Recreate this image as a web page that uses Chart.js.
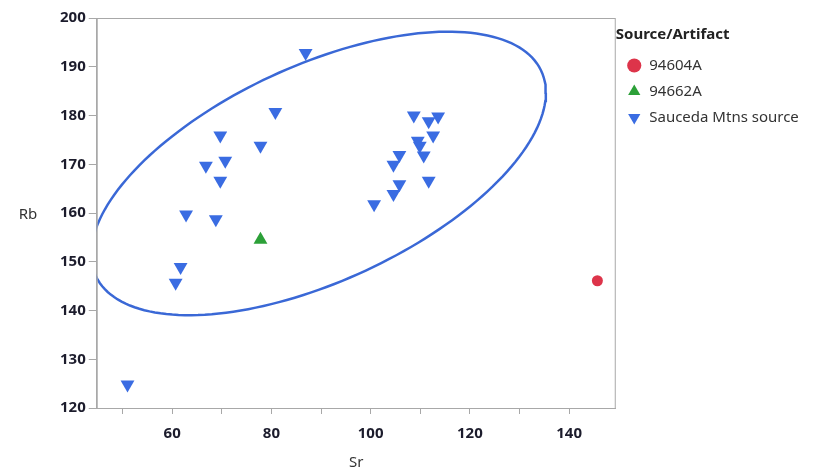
<!DOCTYPE html>
<html>
<head>
<meta charset="utf-8">
<script src="https://cdn.jsdelivr.net/npm/chart.js@4/dist/chart.umd.min.js"></script>
<style>
  html, body { margin: 0; padding: 0; background: #fff; }
  canvas { display: block; }
</style>
</head>
<body>
<canvas id="Chart" width="835" height="468"></canvas>
<script>
// values
const saucedaSr = [86.9, 80.8, 69.7, 77.8, 66.8, 70.7, 69.7, 62.8, 68.8, 61.7, 60.7, 51.0,
                   108.7, 111.7, 113.6, 112.6, 109.5, 109.9, 110.7, 105.8, 104.6, 111.7, 105.8, 104.6, 100.7]
const saucedaRb = [192.8, 180.7, 175.9, 173.8, 169.7, 170.7, 166.6, 159.7, 158.7, 148.9, 145.7, 124.8,
                   180.0, 178.8, 179.8, 175.9, 174.8, 173.8, 171.8, 171.9, 169.9, 166.6, 165.9, 163.9, 161.8]
const a94604Sr = [145.7]
const a94604Rb = [146.1]
const a94662Sr = [77.8]
const a94662Rb = [154.5]
const yTicks = [120, 130, 140, 150, 160, 170, 180, 190, 200]
const xTickLabels = [60, 80, 100, 120, 140]

const blue = 'rgb(58, 108, 226)'
const green = 'rgb(44, 160, 56)'
const red = 'rgb(221, 52, 74)'

function toPoints(xs, ys) {
    return xs.map((x, i) => ({ x: x, y: ys[i] }))
}

// density ellipse of the Sauceda group (mean + covariance, 90% level)
function densityEllipse(xs, ys, level) {
    const n = xs.length
    const mx = xs.reduce((a, b) => a + b, 0) / n
    const my = ys.reduce((a, b) => a + b, 0) / n
    let sxx = 0, syy = 0, sxy = 0
    for (let i = 0; i < n; i++) {
        sxx += (xs[i] - mx) ** 2
        syy += (ys[i] - my) ** 2
        sxy += (xs[i] - mx) * (ys[i] - my)
    }
    sxx /= (n - 1); syy /= (n - 1); sxy /= (n - 1)
    const k = Math.sqrt(-2 * Math.log(1 - level))
    // cholesky of covariance
    const l11 = Math.sqrt(sxx)
    const l21 = sxy / l11
    const l22 = Math.sqrt(syy - l21 * l21)
    const pts = []
    for (let t = 0; t <= 360; t += 2) {
        const a = t * Math.PI / 180
        const u = Math.cos(a) * k, v = Math.sin(a) * k
        pts.push({ x: mx + l11 * u, y: my + l21 * u + l22 * v })
    }
    return pts
}

const framePlugin = {
    id: 'frame',
    afterDraw(chart) {
        const { ctx, chartArea } = chart
        ctx.save()
        ctx.strokeStyle = '#a8a8a8'
        ctx.lineWidth = 1
        ctx.strokeRect(chartArea.left + 0.5, chartArea.top + 0.5,
            chartArea.right - chartArea.left - 1, chartArea.bottom - chartArea.top)
        ctx.fillStyle = '#333'
        ctx.font = '15px "Noto Sans"'
        ctx.textAlign = 'center'
        ctx.textBaseline = 'middle'
        ctx.fillText('Rb', 28, (chartArea.top + chartArea.bottom) / 2 + 2)
        ctx.restore()
    }
}

const ctx = document.getElementById('Chart').getContext('2d')
const myChart = new Chart(ctx, {
    type: 'scatter',
    data: {
        datasets: [
            {
                label: '94604A',
                data: toPoints(a94604Sr, a94604Rb),
                pointStyle: 'circle',
                pointRadius: 5.5,
                backgroundColor: red,
                borderColor: red,
                borderWidth: 0
            },
            {
                label: '94662A',
                data: toPoints(a94662Sr, a94662Rb),
                pointStyle: 'triangle',
                pointRadius: 8,
                backgroundColor: green,
                borderColor: green,
                borderWidth: 0
            },
            {
                label: 'Sauceda Mtns source',
                data: toPoints(saucedaSr, saucedaRb),
                pointStyle: 'triangle',
                rotation: 180,
                pointRadius: 8,
                backgroundColor: blue,
                borderColor: blue,
                borderWidth: 0
            },
            {
                label: 'ellipse',
                data: densityEllipse(saucedaSr, saucedaRb, 0.90),
                showLine: true,
                pointRadius: 0,
                borderColor: 'rgb(58, 104, 214)',
                borderWidth: 2.5,
                tension: 0,
                fill: false
            }
        ]
    },
    options: {
        responsive: false,
        animation: false,
        layout: { padding: { left: 57, top: 18, right: 33, bottom: -4 } },
        scales: {
            x: {
                type: 'linear',
                min: 44.8,
                max: 149.4,
                border: { color: '#a8a8a8' },
                grid: { drawOnChartArea: false, tickLength: 6, tickColor: '#a8a8a8' },
                ticks: {
                    stepSize: 10,
                    includeBounds: false,
                    maxRotation: 0,
                    autoSkip: false,
                    padding: 11,
                    color: '#1c1c2c',
                    font: { family: 'Noto Sans', size: 15, weight: 'bold' },
                    callback: (v) => xTickLabels.includes(v) ? String(v) : ''
                },
                title: {
                    display: true,
                    text: 'Sr',
                    color: '#333',
                    font: { family: 'Noto Sans', size: 15 },
                    padding: { top: 0, bottom: 0 }
                }
            },
            y: {
                type: 'linear',
                min: yTicks[0],
                max: yTicks[yTicks.length - 1],
                border: { color: '#a8a8a8' },
                grid: { drawOnChartArea: false, tickLength: 8, tickColor: '#a8a8a8' },
                afterBuildTicks: (axis) => { axis.ticks = yTicks.map(v => ({ value: v })) },
                ticks: {
                    color: '#1c1c2c',
                    padding: 3,
                    font: { family: 'Noto Sans', size: 15, weight: 'bold' }
                }
            }
        },
        plugins: {
            tooltip: { enabled: false },
            legend: {
                position: 'right',
                align: 'start',
                title: {
                    display: true,
                    text: 'Source/Artifact',
                    position: 'start',
                    color: '#222',
                    font: { family: 'Noto Sans', size: 15, weight: 'bold' },
                    padding: { top: 9, bottom: 2 }
                },
                labels: {
                    usePointStyle: true,
                    boxHeight: 10,
                    padding: 11,
                    color: '#333',
                    font: { family: 'Noto Sans', size: 15 },
                    filter: (item) => item.text !== 'ellipse'
                }
            }
        }
    },
    plugins: [framePlugin]
})
</script>
</body>
</html>
